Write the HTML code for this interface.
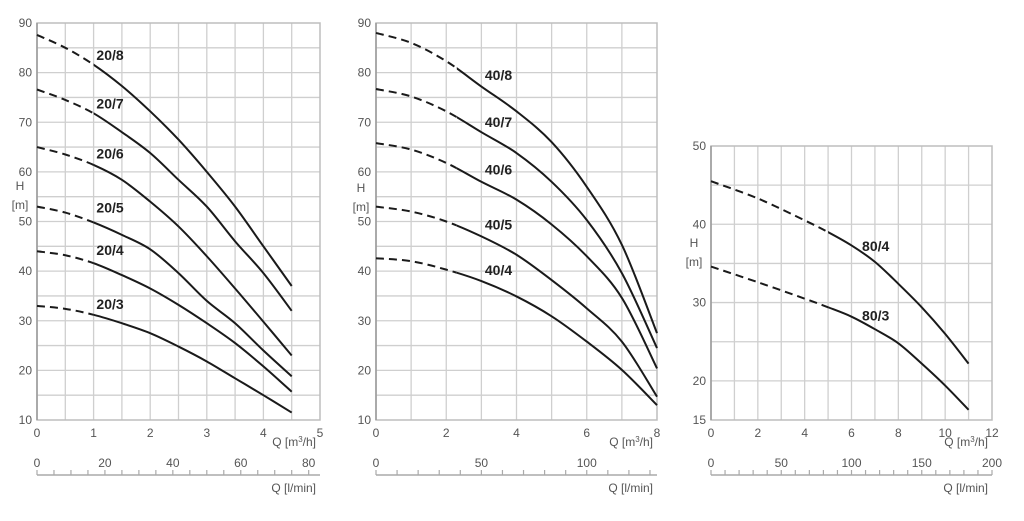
<!DOCTYPE html>
<html><head><meta charset="utf-8">
<style>
body{margin:0;background:#fff;}
svg{display:block;font-family:"Liberation Sans",sans-serif;}
.tk{fill:#555;font-size:12px;}
.lb{fill:#222;font-size:14px;font-weight:bold;}
</style></head>
<body>
<svg id="c" width="1024" height="521" viewBox="0 0 1024 521"></svg>
<script>
// ---- data ----
const q1 = [0,0.5,1,1.5,2,2.5,3,3.5,4,4.5];
const s20_8 = [87.6,85,81.6,77.3,72.2,66.5,60,53,45,37];
const s20_7 = [76.6,74.5,71.8,68,63.8,58.4,53,46,39.6,32];
const s20_6 = [65,63.5,61.4,58.4,54,49,43,36.5,29.8,23];
const s20_5 = [53,51.8,49.8,47.3,44.4,39.6,34,29.5,24,18.8];
const s20_4 = [44,43.2,41.6,39.2,36.5,33.2,29.5,25.5,20.8,15.7];
const s20_3 = [33,32.4,31.2,29.5,27.5,24.8,21.8,18.4,15,11.5];
const names1 = ["20/8","20/7","20/6","20/5","20/4","20/3"];
const q2 = [0,1,2,3,4,5,6,7,8];
const s40_8 = [88,86,82.3,77.2,72.2,66,57,45.3,27.5];
const s40_7 = [76.7,75.2,72.2,68,63.8,58,50.3,39.6,24.5];
const s40_6 = [65.8,64.5,61.8,58,54.4,49.4,43,34.6,20.4];
const s40_5 = [53,52,50,47,43.3,38.2,32.5,25.8,14.7];
const s40_4 = [42.6,42,40.3,38,34.9,30.9,25.8,20.1,13];
const names2 = ["40/8","40/7","40/6","40/5","40/4"];
const q3 = [0,2,4,5,6,7,8,9,10,11];
const s80_4 = [45.5,43.3,40.5,39,37.3,35.2,32.4,29.4,26,22.2];
const s80_3 = [34.6,32.6,30.5,29.4,28.2,26.6,24.8,22.2,19.4,16.3];
const names3 = ["80/4","80/3"];
const xt1 = [0,1,2,3,4,5], yt1 = [10,20,30,40,50,60,70,80,90], lt1 = [0,20,40,60,80];
const xt2 = [0,2,4,6,8], yt2 = yt1, lt2 = [0,50,100];
const xt3 = [0,2,4,6,8,10,12], yt3 = [15,20,30,40,50], lt3 = [0,50,100,150,200];

const NS="http://www.w3.org/2000/svg", svg=document.getElementById('c');
function mk(tag,attrs,parent,txt){const e=document.createElementNS(NS,tag);for(const k in attrs)e.setAttribute(k,attrs[k]);if(txt!==undefined)e.textContent=txt;(parent||svg).appendChild(e);return e;}

function chart(o){
  const g=mk('g',{});
  
  
  const X=v=>o.x0+(v-o.xmin)/(o.xmax-o.xmin)*(o.x1-o.x0);
  const Y=v=>o.y0-(v-o.ymin)/(o.ymax-o.ymin)*(o.y0-o.y1);
  // grid
  for(let v=o.xmin+o.gx;v<o.xmax-1e-6;v+=o.gx){const l=mk('line',{x1:X(v),x2:X(v),y1:o.y1,y2:o.y0,stroke:'#cfcfcf','stroke-width':1.3},g);}
  for(let v=o.ymin+o.gy;v<o.ymax-1e-6;v+=o.gy){const l=mk('line',{x1:o.x0,x2:o.x1,y1:Y(v),y2:Y(v),stroke:'#cfcfcf','stroke-width':1.3},g);}
  const fr=mk('rect',{x:o.x0,y:o.y1,width:o.x1-o.x0,height:o.y0-o.y1,fill:'none',stroke:'#bdbdbd','stroke-width':1.5},g);
  
  const ax=mk('line',{x1:o.x0,x2:o.x0,y1:o.y1,y2:o.y0,stroke:'#999','stroke-width':1.5},g);
  
  o.yt.forEach(v=>{const t=mk('text',{x:o.x0-5,y:Y(v)+4,'text-anchor':'end',class:'tk'},g,v);});
  o.xt.forEach(v=>{const t=mk('text',{x:X(v),y:o.y0+17,'text-anchor':'middle',class:'tk'},g,v);});
  let t=mk('text',{x:o.hx,y:o.hy,'text-anchor':'middle',class:'tk'},g,'H');
  t=mk('text',{x:o.hx,y:o.hy+19,'text-anchor':'middle',class:'tk'},g,'[m]');
  t=mk('text',{x:o.x1-4,y:o.y0+26,'text-anchor':'end',class:'tk'},g);t.innerHTML='Q [m<tspan dy="-4" font-size="8">3</tspan><tspan dy="4">/h]</tspan>';
  
  // secondary l/min axis
  const L=v=>X(v*60/1000);
  const la=mk('line',{x1:o.x0,x2:o.x1,y1:475,y2:475,stroke:'#aaa','stroke-width':1.5},g);
  
  for(let v=0;L(v)<=o.x1+0.5;v+=o.lstep){const tk=mk('line',{x1:L(v),x2:L(v),y1:470,y2:475,stroke:'#aaa','stroke-width':1.2},g);}
  o.lt.forEach(v=>{const e=mk('text',{x:L(v),y:467,'text-anchor':'middle',class:'tk'},g,v);});
  t=mk('text',{x:o.x1-4,y:492,'text-anchor':'end',class:'tk'},g,'Q [l/min]');
  // series
  o.series.forEach((s,i)=>{
    const pts=o.q.map((q,j)=>[X(q),Y(s[j])]);
    let d='M'+pts[0][0]+','+pts[0][1];
    for(let j=0;j<pts.length-1;j++){
      const p0=pts[Math.max(0,j-1)],p1=pts[j],p2=pts[j+1],p3=pts[Math.min(pts.length-1,j+2)];
      d+=' C'+(p1[0]+(p2[0]-p0[0])/6)+','+(p1[1]+(p2[1]-p0[1])/6)+' '+(p2[0]-(p3[0]-p1[0])/6)+','+(p2[1]-(p3[1]-p1[1])/6)+' '+p2[0]+','+p2[1];
    }
    const cid=o.id+'-clip'+i;
    const cp=mk('clipPath',{id:cid},g);mk('rect',{x:0,y:0,width:X(o.dashTo),height:521},cp);
    const cp2=mk('clipPath',{id:cid+'b'},g);mk('rect',{x:X(o.dashTo),y:0,width:1024,height:521},cp2);
    const a=mk('path',{d:d,fill:'none',stroke:'#1a1a1a','stroke-width':2,'stroke-dasharray':'8,5','clip-path':'url(#'+cid+')'},g);
    
    const b=mk('path',{d:d,fill:'none',stroke:'#1a1a1a','stroke-width':2,'clip-path':'url(#'+cid+'b)'},g);
    
    const lx=X(o.labQ), ly=Y(o.labH[i]);
    const lb=mk('text',{x:lx,y:ly,class:'lb'},g,o.names[i]);
    
  });
}
chart({id:'chart-20',x0:37,x1:320,y0:420,y1:23,xmin:0,xmax:5,ymin:10,ymax:90,gx:0.5,gy:5,
  xt:xt1,yt:yt1,lt:lt1,lstep:5,hx:20,hy:190,q:q1,series:[s20_8,s20_7,s20_6,s20_5,s20_4,s20_3],names:names1,
  dashTo:1,labQ:1.05,labH:[82.5,72.8,62.7,51.8,43.2,32.4]});
chart({id:'chart-40',x0:376,x1:657,y0:420,y1:23,xmin:0,xmax:8,ymin:10,ymax:90,gx:1,gy:5,
  xt:xt2,yt:yt2,lt:lt2,lstep:10,hx:361,hy:192,q:q2,series:[s40_8,s40_7,s40_6,s40_5,s40_4],names:names2,
  dashTo:2.3,labQ:3.1,labH:[78.5,69,59.5,48.4,39.2]});
chart({id:'chart-80',x0:711,x1:992,y0:420,y1:146,xmin:0,xmax:12,ymin:15,ymax:50,gx:1,gy:5,
  xt:xt3,yt:yt3,lt:lt3,lstep:10,hx:694,hy:247,q:q3,series:[s80_4,s80_3],names:names3,
  dashTo:5,labQ:6.45,labH:[36.6,27.7]});
</script>
</body></html>
